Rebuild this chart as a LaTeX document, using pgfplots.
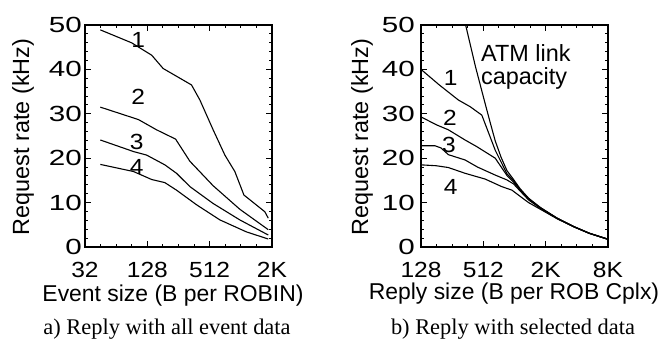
\documentclass[border=0pt]{standalone}
\usepackage{fontspec}
\setmainfont{Liberation Sans}
\newfontfamily\seriffont{Liberation Serif}
\usepackage{pgfplots}
\pgfplotsset{compat=1.18}
\newcommand\hx[1]{\scalebox{1.12}[1]{#1}}
\newcommand\hy[1]{\scalebox{1.35}[1]{#1}}
\newcommand\tickfont{\fontsize{22}{24}\selectfont}
\newcommand\labfont{\fontsize{23.5}{26}\selectfont}
\pgfplotsset{
  cur/.style={black, line width=1.1pt, line join=round, no markers},
}
\begin{document}
\begin{tikzpicture}
\useasboundingbox (0,0) rectangle (668bp,340bp);
\begin{axis}[at={(85bp,93bp)}, anchor=south west,
  scale only axis, width=187bp, height=222bp, xmode=log,
  ymin=0, ymax=50, ytick={0,10,20,30,40,50},
  yticklabels={\hy{0},\hy{10},\hy{20},\hy{30},\hy{40},\hy{50}},
  minor ytick={2,4,6,8,12,14,16,18,22,24,26,28,32,34,36,38,42,44,46,48},
  axis line style={line width=1.3pt},
  every tick/.style={black, line width=1pt},
  major tick length=6bp, minor tick length=3.3bp,
  tick label style={font=\tickfont},
  xticklabel style={anchor=north, inner sep=0pt, yshift=-14.5bp},
  yticklabel style={anchor=east, inner sep=0pt, xshift=-3bp},
  xmin=32, xmax=2048, xtick={32,128,512,2048},
  xticklabels={\hx{32},\hx{128},\hx{512},\hx{2K}},
  minor xtick={45.25,64,90.51,181,256,362,724,1024,1448}]
\addplot[cur] coordinates {(45,48.9)(90,46.0)(141,43.2)(182,40.2)(342,36.5)(412,33.1)(553,26.4)(718,20.7)(896,17.0)(1097,11.7)(1745,7.95)(1885,6.5)};
\addplot[cur] coordinates {(45,31.5)(105,28.7)(157,26.4)(240,24.3)(330,19.3)(553,13.8)(1001,8.5)(1885,3.9)};
\addplot[cur] coordinates {(45,24.1)(94,21.5)(126,20.7)(189,18.5)(245,16.6)(330,13.6)(553,9.8)(1001,6.1)(1885,2.7)};
\addplot[cur] coordinates {(45,18.6)(94,17.0)(141,15.2)(189,14.5)(245,12.8)(383,9.5)(643,6.1)(1160,3.4)(1885,1.8)};
\end{axis}
\begin{axis}[at={(421bp,93bp)}, anchor=south west,
  scale only axis, width=187bp, height=222bp, xmode=log,
  ymin=0, ymax=50, ytick={0,10,20,30,40,50},
  yticklabels={\hy{0},\hy{10},\hy{20},\hy{30},\hy{40},\hy{50}},
  minor ytick={2,4,6,8,12,14,16,18,22,24,26,28,32,34,36,38,42,44,46,48},
  axis line style={line width=1.3pt},
  every tick/.style={black, line width=1pt},
  major tick length=6bp, minor tick length=3.3bp,
  tick label style={font=\tickfont},
  xticklabel style={anchor=north, inner sep=0pt, yshift=-14.5bp},
  yticklabel style={anchor=east, inner sep=0pt, xshift=-6bp},
  xmin=128, xmax=8192, xtick={128,512,2048,8192},
  xticklabels={\hx{128},\hx{512},\hx{2K},\hx{8K}},
  minor xtick={181,256,362,724,1024,1448,2896,4096,5793}]
\addplot[cur] coordinates {(330,51.9)(347,49.8)(430,40.6)(522,33.1)(600,27.8)(667,23.9)(760,20.2)(866,17.2)(1003,15.2)(1162,13.1)(1400,11.0)(1820,8.9)(2630,6.55)(3820,4.62)(5400,3.12)(8192,1.76)};
\addplot[cur] coordinates {(128,40)(190,36.6)(294,33.1)(382,31.6)(495,29.7)(667,21.8)(866,16.5)(1003,14.9)(1162,12.95)(1400,10.9)(1820,8.85)(2630,6.5)(3820,4.6)(5400,3.1)(8192,1.75)};
\addplot[cur] coordinates {(128,29.3)(181,27.5)(235,26.4)(341,24.1)(443,22.6)(667,20.0)(866,16.1)(1003,14.6)(1162,12.8)(1400,10.8)(1820,8.8)(2630,6.48)(3820,4.58)(5400,3.09)(8192,1.74)};
\addplot[cur] coordinates {(128,22.8)(175,22.8)(200,22.3)(235,20.8)(341,19.6)(450,18.0)(667,16.2)(866,15.1)(1003,14.2)(1162,12.6)(1400,10.6)(1820,8.7)(2630,6.45)(3820,4.57)(5400,3.08)(8192,1.73)};
\addplot[cur] coordinates {(128,18.5)(180,18.3)(235,17.9)(341,16.6)(533,15.3)(771,13.6)(968,12.8)(1162,11.4)(1400,10.0)(1820,8.5)(2630,6.38)(3820,4.55)(5400,3.07)(8192,1.72)};
\end{axis}
% curve labels
\node[font=\tickfont] at (138.3bp,300bp) {\hx{1}};
\node[font=\tickfont] at (138.3bp,243.3bp) {\hx{2}};
\node[font=\tickfont] at (136.7bp,198.3bp) {\hx{3}};
\node[font=\tickfont] at (136.7bp,173.3bp) {\hx{4}};
\node[font=\tickfont] at (450.7bp,261.7bp) {\hx{1}};
\node[font=\tickfont] at (450bp,221.7bp) {\hx{2}};
\node[font=\tickfont] at (449bp,195bp) {\hx{3}};
\node[font=\tickfont] at (450.7bp,153.3bp) {\hx{4}};
\node[font=\labfont, anchor=base west, inner sep=0pt] at (481bp,278.3bp) {ATM link};
\node[font=\labfont, anchor=base west, inner sep=0pt] at (481bp,255bp) {capacity};
% axis labels
\node[font=\labfont, rotate=90] at (23bp,203bp) {Request rate (kHz)};
\node[font=\labfont, rotate=90] at (362bp,203bp) {Request rate (kHz)};
\node[font=\fontsize{23}{26}\selectfont, anchor=base] at (173bp,39bp) {Event size (B per ROBIN)};
\node[font=\fontsize{23}{26}\selectfont, anchor=base] at (514bp,40bp) {Reply size (B per ROB Cplx)};
% captions
\node[font=\seriffont\fontsize{22.5}{26}\selectfont, anchor=base] at (167bp,5.5bp) {a) Reply with all event data};
\node[font=\seriffont\fontsize{22.5}{26}\selectfont, anchor=base] at (513bp,5.5bp) {b) Reply with selected data};
\end{tikzpicture}
\end{document}
